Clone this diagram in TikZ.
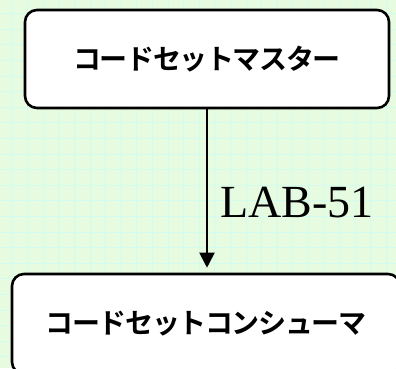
\documentclass[tikz,border=0pt]{standalone}
\usepackage{fontspec}
\setmainfont{Liberation Serif}
\newfontfamily\cjk{Noto Sans CJK JP}[BoldFont={Noto Sans CJK JP Bold}, LetterSpace=-5]
\definecolor{bgc}{HTML}{E6FBE0}
\definecolor{gridc}{HTML}{D2FCEE}
\tikzset{
  procbox/.style={draw=black, line width=2.6pt, rounded corners=12pt, fill=white,
    font=\cjk\bfseries\fontsize{28}{32}\selectfont, inner sep=0pt},
  flow/.style={-{Triangle[length=15pt,width=15pt]}, line width=2pt},
  lbl/.style={font=\fontsize{46}{50}\selectfont, inner sep=0pt}
}
\usetikzlibrary{arrows.meta}
\begin{document}
\begin{tikzpicture}[x=1pt,y=-1pt]
\useasboundingbox (0,0) rectangle (396,368);
\clip (0,0) rectangle (396,368);
\fill[bgc] (0,0) rectangle (396,368);
\foreach \i in {0,...,26} {
  \draw[gridc, line width=0.8pt] ({12+15.6*(\i-1)},0) -- ({12+15.6*(\i-1)},368);
  \draw[gridc, line width=0.8pt] (0,{13.5+15.6*(\i-1)}) -- (396,{13.5+15.6*(\i-1)});
}
\node[procbox, minimum width=364pt, minimum height=98pt] (master) at (207,59) {コードセットマスター};
\node[procbox, minimum width=388pt, minimum height=100pt] (consumer) at (206,324) {コードセットコンシューマ};
\draw[flow, shorten >=5pt] (master.south) -- (master.south |- consumer.north)
  node[lbl, pos=0.57, right=12pt] (lab) {LAB-51};
\end{tikzpicture}
\end{document}
